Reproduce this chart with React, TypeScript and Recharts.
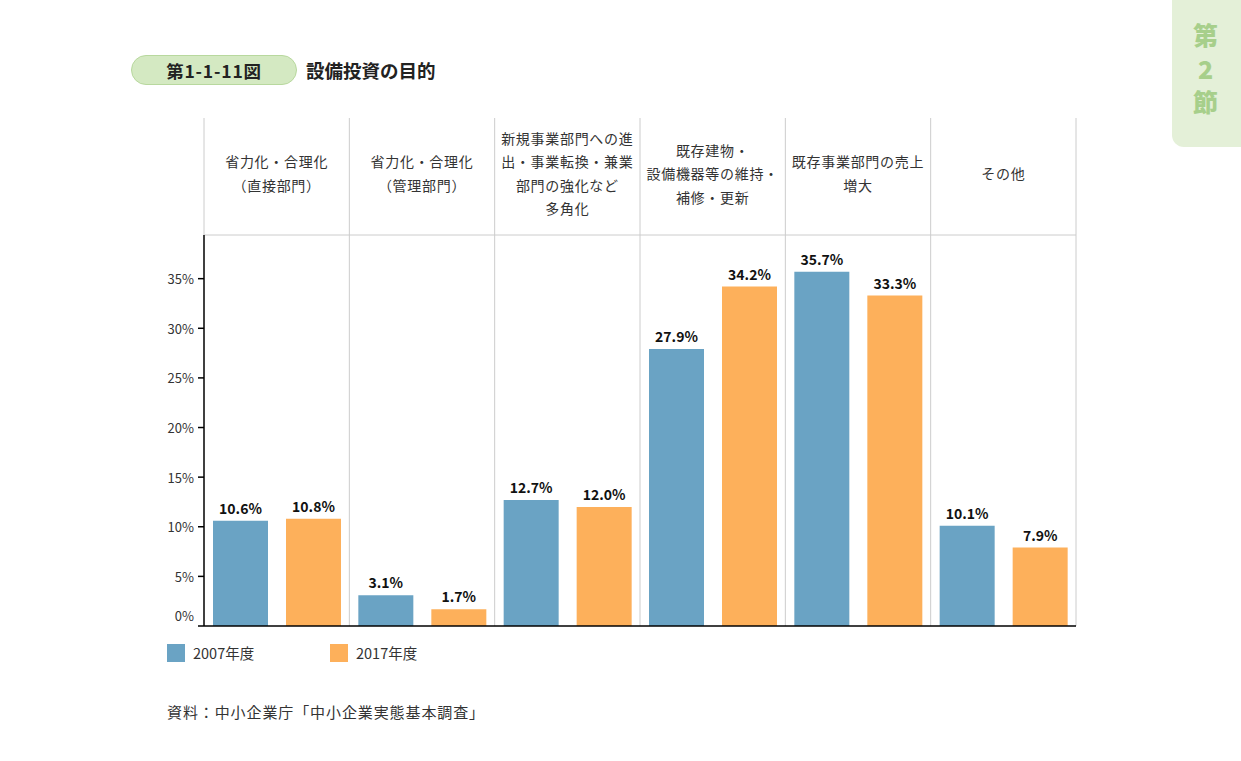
import { BarChart, Bar, XAxis, YAxis, CartesianGrid, ReferenceLine, LabelList } from 'recharts'

const categories = [
  '省力化・合理化\n（直接部門）',
  '省力化・合理化\n（管理部門）',
  '新規事業部門への進\n出・事業転換・兼業\n部門の強化など\n多角化',
  '既存建物・\n設備機器等の維持・\n補修・更新',
  '既存事業部門の売上\n増大',
  'その他',
]
const values2007 = [10.6, 3.1, 12.7, 27.9, 35.7, 10.1]
const values2017 = [10.8, 1.7, 12.0, 34.2, 33.3, 7.9]
const yTicks = [0, 5, 10, 15, 20, 25, 30, 35]
const seriesNames = ['2007年度', '2017年度']

const BLUE = '#6aa3c4'
const ORANGE = '#fdb05b'
const FONT = "'Noto Sans CJK JP', 'Noto Sans', sans-serif"

const W = 1241
const H = 761
const PLOT_LEFT = 204
const PLOT_RIGHT = 1076
const BAND = (PLOT_RIGHT - PLOT_LEFT) / categories.length
const HEADER_TOP = 118
const HEADER_BOTTOM = 235
const HEADER_MID = 173

const data = categories.map((name, i) => ({ name, v2007: values2007[i], v2017: values2017[i] }))

function HeaderTick(props: any) {
  const { x, payload, index } = props
  const lines = String(payload.value).split('\n')
  const start = HEADER_MID - ((lines.length - 1) * 23.5) / 2
  const left = x - BAND / 2
  return (
    <g>
      <line x1={left} x2={left} y1={HEADER_TOP} y2={HEADER_BOTTOM} stroke="#cccccc" />
      {index === categories.length - 1 && (
        <line x1={left + BAND} x2={left + BAND} y1={HEADER_TOP} y2={HEADER_BOTTOM} stroke="#cccccc" />
      )}
      <text x={x} textAnchor="middle" fontSize={14} letterSpacing={0.7} fill="#333" fontFamily={FONT}>
        {lines.map((l, i) => (
          <tspan key={i} x={x} y={start + i * 23.5} dominantBaseline="central">
            {l}
          </tspan>
        ))}
      </text>
    </g>
  )
}

function YTick(props: any) {
  const { x, y, payload } = props
  const dy = payload.value === 0 ? -11 : 0
  return (
    <text x={x} y={y + dy} textAnchor="end" dominantBaseline="central" fontSize={13} fill="#333" fontFamily={FONT}>
      {payload.value}%
    </text>
  )
}

export default function App() {
  return (
    <div style={{ position: 'absolute', left: 0, top: 0, width: W, height: H, background: '#fff', fontFamily: FONT, overflow: 'hidden' }}>
      {/* side tab */}
      <div
        style={{
          position: 'absolute', left: 1172, top: -10, width: 80, height: 157,
          background: '#e4f0d8', borderBottomLeftRadius: 12,
          display: 'flex', flexDirection: 'column', alignItems: 'center', paddingTop: 28,
          boxSizing: 'border-box', paddingRight: 13,
        }}
      >
        {['第', '2', '節'].map((c) => (
          <div key={c} style={{ color: '#a7cf8b', fontWeight: 900, fontSize: 25, lineHeight: '33.5px' }}>{c}</div>
        ))}
      </div>

      {/* title */}
      <div
        style={{
          position: 'absolute', left: 131, top: 55, width: 166, height: 30, boxSizing: 'border-box',
          borderRadius: 15, background: '#d4e9c2', border: '1px solid #b8d89e',
          display: 'flex', alignItems: 'center', justifyContent: 'center',
          fontWeight: 700, fontSize: 17.5, letterSpacing: 0.8, color: '#222',
        }}
      >
        第1-1-11図
      </div>
      <div style={{ position: 'absolute', left: 306, top: 57, fontWeight: 700, fontSize: 18.5, color: '#222', lineHeight: '26px' }}>
        設備投資の目的
      </div>

      <div style={{ position: 'absolute', left: 0, top: 0 }}>
        <BarChart
          width={W}
          height={H}
          data={data}
          margin={{ top: HEADER_TOP, right: W - PLOT_RIGHT, bottom: 135, left: PLOT_LEFT - 60 }}
          barSize={55}
          barGap={18}
        >
          <CartesianGrid
            horizontal={false}
            stroke="#cccccc"
            verticalCoordinatesGenerator={({ offset }: any) =>
              categories.map((_, i) => offset.left + (i + 1) * (offset.width / categories.length))
            }
          />
          <XAxis
            dataKey="name"
            orientation="top"
            height={HEADER_BOTTOM - HEADER_TOP}
            interval={0}
            tickLine={false}
            axisLine={{ stroke: '#cccccc' }}
            tick={<HeaderTick />}
          />
          <YAxis
            type="number"
            width={60}
            domain={[0, 39.4]}
            ticks={yTicks}
            allowDataOverflow
            tickSize={6}
            tickMargin={4}
            axisLine={{ stroke: '#000', strokeWidth: 1.5 }}
            tickLine={{ stroke: '#000', strokeWidth: 1.5 }}
            tick={<YTick />}
          />
          <ReferenceLine y={0} stroke="#000" strokeWidth={1.5} />
          <Bar dataKey="v2007" fill={BLUE} isAnimationActive={false}>
            <LabelList
              dataKey="v2007"
              position="top"
              offset={7}
              formatter={(v: any) => `${Number(v).toFixed(1)}%`}
              style={{ fontSize: 14, fontWeight: 700, fill: '#111', fontFamily: FONT }}
            />
          </Bar>
          <Bar dataKey="v2017" fill={ORANGE} isAnimationActive={false}>
            <LabelList
              dataKey="v2017"
              position="top"
              offset={7}
              formatter={(v: any) => `${Number(v).toFixed(1)}%`}
              style={{ fontSize: 14, fontWeight: 700, fill: '#111', fontFamily: FONT }}
            />
          </Bar>
        </BarChart>
      </div>

      {/* legend */}
      {seriesNames.map((n, i) => (
        <div key={n} style={{ position: 'absolute', left: 167 + i * 163, top: 644, display: 'flex', alignItems: 'center' }}>
          <div style={{ width: 18, height: 18, background: i === 0 ? BLUE : ORANGE }} />
          <span style={{ marginLeft: 8, fontSize: 14.5, color: '#333', lineHeight: '18px' }}>{n}</span>
        </div>
      ))}

      <div style={{ position: 'absolute', left: 167, top: 701, fontSize: 15, letterSpacing: 0.9, color: '#333', lineHeight: '22px' }}>
        資料：中小企業庁「中小企業実態基本調査」
      </div>
    </div>
  )
}
